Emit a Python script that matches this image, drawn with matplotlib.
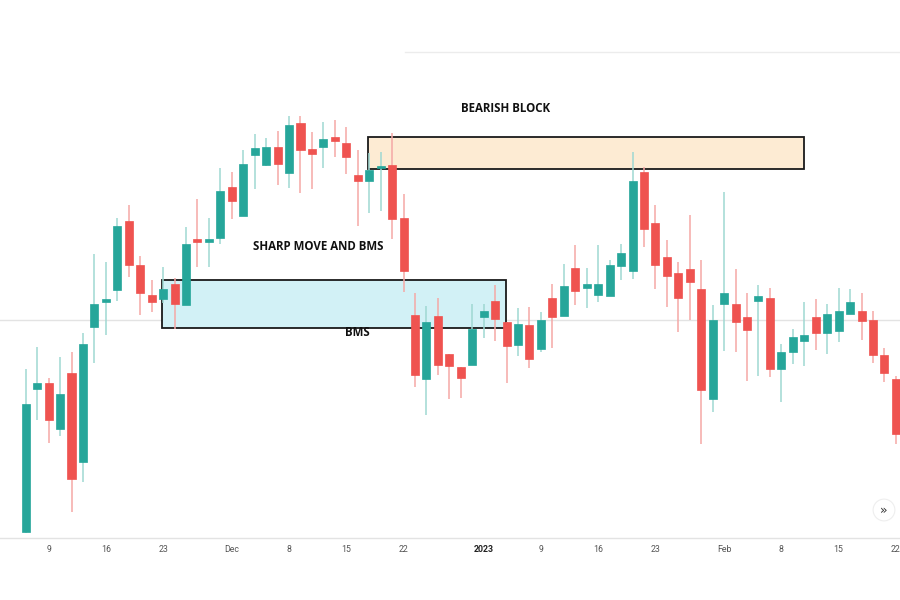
import matplotlib
matplotlib.use("Agg")
import matplotlib.pyplot as plt
from matplotlib.patches import Rectangle, FancyBboxPatch
from matplotlib.lines import Line2D

# ---- data (daily OHLC, trading-day index) ----
opens = [68, 211.3, 217.3, 170.7, 227.3, 138, 273.3, 298, 310, 378.7,
         334.7, 305.3, 301.5, 316.3, 295.3, 361, 358.3, 362.3, 412.7, 384.3,
         445, 435, 453, 427.3, 476.7, 450.7, 452.7, 463, 456.7, 424.7,
         418.7, 432, 435.3, 382, 285.3, 221, 284, 246, 233.3, 234.7,
         282.7, 299, 277.7, 255, 274.7, 251.3, 302, 284.3, 332, 311.7,
         305.3, 304.3, 334.3, 329, 427.7, 377, 343.3, 326.7, 330.7, 310.7,
         200.7, 295.7, 295.7, 282.7, 299, 301.7, 231.3, 247.7, 259, 282.7,
         266.7, 269.3, 286.3, 289.3, 280, 245, 221.3]
highs = [231, 253.3, 222, 242.7, 247.7, 266.7, 346, 338.3, 382, 394.7,
         344, 320, 333.3, 322.3, 373.3, 400.7, 381.7, 431.7, 428.3, 450,
         465.7, 461.7, 469, 484, 484, 468.3, 478.3, 480, 473.3, 450,
         447.3, 448.3, 466.7, 406, 307.3, 293.7, 302.3, 246, 233.3, 296,
         296, 315, 277.7, 291.7, 292.7, 288, 315.7, 336, 354.7, 332,
         354.7, 340, 356, 448, 433.3, 395, 360, 337.7, 384.7, 340,
         295, 407.7, 330.7, 306.7, 315, 312.3, 255.7, 271.3, 298, 301.3,
         296, 312.3, 310.7, 306.7, 289, 252.3, 224]
lows = [67, 180, 157, 164.3, 87.7, 117.7, 236.7, 264.7, 298.7, 322.7,
        285, 288.3, 297, 271.3, 295, 333.3, 333.3, 356, 380.7, 384,
        411.3, 434.5, 415, 412, 407.3, 410.7, 432, 442.7, 426.3, 373.7,
        387.3, 388.7, 360.7, 308.3, 212.7, 185, 224.7, 200.7, 202.3, 234.7,
        261.7, 259.3, 217.3, 244, 231.7, 248.3, 252.3, 284.3, 294.7, 291.7,
        298, 304, 320, 321, 353.3, 311, 293.3, 267.7, 280, 156,
        188.3, 249.3, 247.7, 219, 224.3, 223.3, 197.7, 235.7, 234.3, 250,
        245.7, 258.3, 286, 260, 236.7, 218.3, 156]
closes = [196, 217.3, 180, 205.7, 121, 256, 296.3, 301.3, 373.7, 334.7,
          307, 298, 311, 296.3, 355.7, 358.3, 361, 408.7, 398.7, 436.3,
          452, 453, 436.3, 475.3, 449.7, 445.7, 460.7, 459, 443, 419,
          430.3, 434.3, 381, 329, 224.7, 278, 234.7, 233.7, 222.3, 271.3,
          289.3, 281, 254, 276.3, 241.3, 280, 282.7, 314.3, 309, 315.7,
          315.7, 334.7, 347, 418.7, 371, 334.7, 324.3, 301.7, 318, 210.3,
          280.3, 306.7, 278.3, 270.3, 304, 231.3, 248.3, 262.7, 264.7, 266.7,
          286, 289, 297.7, 279.3, 245, 227.3, 166]

tick_idx = [2, 7, 12, 18, 23, 28, 33, 40, 45, 50, 55, 61, 66, 71, 76]
tick_labels = ["9", "16", "23", "Dec", "8", "15", "22", "2023", "9", "16",
               "23", "Feb", "8", "15", "22"]

# zones: (start idx, end idx, low price, high price)
bull_zone = (11.93, 41.97, 271.7, 319.7)
bear_zone = (29.92, 67.95, 431.3, 462.7)
last_price = 280

UP = "#26a69a"
DOWN = "#ef5350"
UP_WICK = "#9fd8d2"
DOWN_WICK = "#f5a8a6"

fig = plt.figure(figsize=(9, 6), dpi=100)
ax = fig.add_axes([0, 62 / 600, 1, 538 / 600])
ax.set_xlim(-2.245, 76.36)
ax.set_ylim(62, 600)

# price line
ax.axhline(last_price, color="#e3e3e3", lw=1, zorder=0)

# zones
bx0, bx1, by0, by1 = bull_zone
ax.add_patch(Rectangle((bx0, by0), bx1 - bx0, by1 - by0, facecolor="#d2f1f6",
                       edgecolor="#1a1a1a", lw=1.3, zorder=1))
ox0, ox1, oy0, oy1 = bear_zone
ax.add_patch(Rectangle((ox0, oy0), ox1 - ox0, oy1 - oy0, facecolor="#fdebd3",
                       edgecolor="#1a1a1a", lw=1.3, zorder=1))

w = 0.7
for i, (o, h, l, c) in enumerate(zip(opens, highs, lows, closes)):
    up = c >= o
    col = UP if up else DOWN
    wcol = UP_WICK if up else DOWN_WICK
    ax.plot([i, i], [l, h], color=wcol, lw=1.1, zorder=2, solid_capstyle="butt")
    lo_b, hi_b = min(o, c), max(o, c)
    if hi_b - lo_b < 1.5:
        hi_b = lo_b + 1.5
    ax.add_patch(Rectangle((i - w / 2, lo_b), w, hi_b - lo_b, facecolor=col,
                           edgecolor=col, lw=0.5, zorder=3))

fnt = "Open Sans"
ax.text(41.95, 491, "BEARISH BLOCK", ha="center", va="center", fontsize=8.3,
        fontweight="bold", family=fnt, color="#111111", zorder=4)
ax.text(25.57, 353, "SHARP MOVE AND BMS", ha="center", va="center", fontsize=8.3,
        fontweight="bold", family=fnt, color="#111111", zorder=4)
ax.text(29.0, 268, "BMS", ha="center", va="center", fontsize=8.3,
        fontweight="bold", family=fnt, color="#111111", zorder=4)

for s in ax.spines.values():
    s.set_visible(False)
ax.set_yticks([])
ax.set_xticks(tick_idx)
ax.set_xticklabels(tick_labels)
ax.tick_params(axis="x", length=0, pad=5, labelsize=6.3, labelcolor="#555555")
for lab in ax.get_xticklabels():
    lab.set_family("Roboto")
    if lab.get_text() == "2023":
        lab.set_fontweight("bold")
        lab.set_color("#222222")

# bottom axis line and top faint line
fig.add_artist(Line2D([0, 1], [62 / 600, 62 / 600], color="#e3e3e3", lw=1))
fig.add_artist(Line2D([405 / 900, 1], [1 - 52 / 600, 1 - 52 / 600], color="#ececec", lw=1))

# scroll button
fig.text(884 / 900, 1 - 510 / 600, "»", ha="center", va="center", fontsize=9,
         color="#333333",
         bbox=dict(boxstyle="circle,pad=0.35", facecolor="white", edgecolor="#eeeeee", lw=0.8))

fig.savefig("out.png", dpi=100, facecolor="white")
